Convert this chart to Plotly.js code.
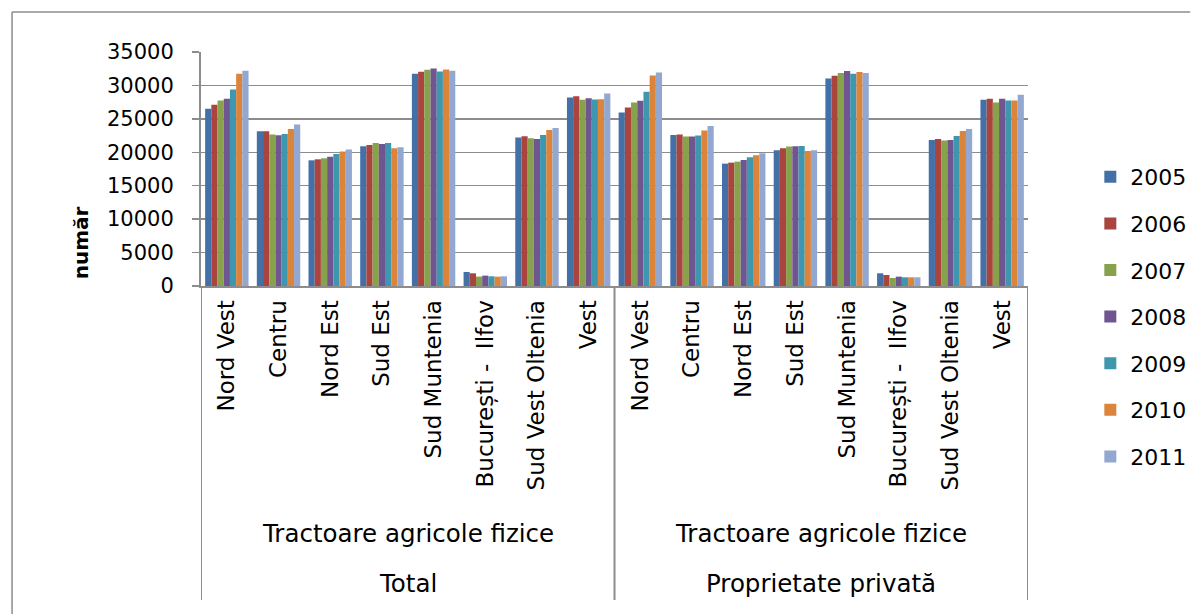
<!DOCTYPE html>
<html>
<head>
<meta charset="utf-8">
<script src="https://cdn.plot.ly/plotly-3.0.1.min.js"></script>
<style>html,body{margin:0;padding:0;background:#fff;}#chart{width:1201px;height:614px;}</style>
</head>
<body>
<div id="chart"></div>
<script>
// ---- data ----
const regions = ["Nord Vest","Centru","Nord Est","Sud Est","Sud Muntenia","București -  Ilfov","Sud Vest Oltenia","Vest"];
const ownership = ["Total","Proprietate privată"];
const indicator = "Tractoare agricole fizice";
const years = ["2005","2006","2007","2008","2009","2010","2011"];
const colors = ["#4470A8","#A9443F","#87A24B","#6F5690","#3E97AF","#DD843B","#93A8D0"];

// values: first 8 = Total, next 8 = Proprietate privată (same region order)
const v2005 = [26500,23150,18800,20900,31750,2100,22200,28200, 25950,22600,18300,20300,31050,1900,21850,27850];
const v2006 = [27100,23150,18950,21100,32050,1900,22400,28400, 26700,22650,18450,20600,31450,1650,22000,28000];
const v2007 = [27750,22650,19100,21400,32350,1400,22100,27850, 27450,22350,18600,20850,31850,1200,21750,27450];
const v2008 = [28000,22550,19350,21250,32550,1550,22000,28100, 27700,22350,18850,20900,32150,1400,21850,28000];
const v2009 = [29400,22750,19750,21400,32100,1450,22600,27900, 29050,22500,19250,20950,31750,1300,22450,27750];
const v2010 = [31750,23500,20100,20600,32400,1400,23350,27950, 31500,23250,19550,20200,32000,1300,23200,27750];
const v2011 = [32200,24150,20400,20750,32200,1450,23650,28800, 31950,23950,19850,20300,31850,1300,23500,28600];
const series = [v2005,v2006,v2007,v2008,v2009,v2010,v2011];

// ---- layout geometry (pixels) ----
const W = 1201, H = 614;
const L = 201, R = 1037, T = 52, B = 286;   // axis box
const MB = 10;                               // bottom margin (plot area extends below axis)
const GH = H - T - MB;                       // plot-area height
const px2x = p => (p - L) / (R - L);
const py2y = p => (H - MB - p) / GH;

const cats = [];
ownership.forEach(() => regions.forEach(r => cats.push(r)));
const xs = cats.map((_, i) => i);

const traces = series.map((vals, k) => ({
  type: 'bar',
  name: years[k],
  x: xs,
  y: vals,
  legendgroup: 'g' + k,
  marker: {color: colors[k], line: {width: 0}},
  hoverinfo: 'skip'
}));

const grey = '#8c8c8c';
const shapes = [];
const nGroups = ownership.length, nReg = regions.length;
for (let g = 0; g <= nGroups; g++) {
  const xb = g * nReg - 0.5;
  shapes.push({type:'line', xref:'x', yref:'paper', x0:xb, x1:xb, y0:py2y(B), y1:py2y(600), line:{color:grey, width:2}});
}
// outer frame (top + left; the rest is cropped)
shapes.push({type:'line', xref:'paper', yref:'paper', x0:px2x(10), x1:px2x(1201), y0:py2y(12), y1:py2y(12), line:{color:grey, width:1.5}});
shapes.push({type:'line', xref:'paper', yref:'paper', x0:px2x(10), x1:px2x(10), y0:py2y(12), y1:py2y(614), line:{color:grey, width:1.5}});

const annotations = [];
ownership.forEach((o, g) => {
  const cx = g * nReg + (nReg - 1) / 2;
  annotations.push({xref:'x', yref:'paper', x:cx, y:py2y(533), text:indicator, showarrow:false, xanchor:'center', yanchor:'middle', font:{family:'DejaVu Sans', size:24.5, color:'#000'}});
  annotations.push({xref:'x', yref:'paper', x:cx, y:py2y(583), text:o, showarrow:false, xanchor:'center', yanchor:'middle', font:{family:'DejaVu Sans', size:24.5, color:'#000'}});
});
annotations.push({xref:'paper', yref:'paper', x:px2x(80), y:py2y(243), text:'<b>număr</b>', textangle:-90, showarrow:false, xanchor:'center', yanchor:'middle', font:{family:'DejaVu Sans', size:20, color:'#000'}});

const layout = {
  width: W, height: H,
  margin: {l:L, r:W-R, t:T, b:MB, pad:0},
  paper_bgcolor:'#fff', plot_bgcolor:'rgba(0,0,0,0)',
  barmode:'group', bargap:0.16, bargroupgap:0,
  showlegend:true,
  legend:{x:px2x(1100), xanchor:'left', y:py2y(156), yanchor:'top', traceorder:'grouped', tracegroupgap:15,
          font:{family:'DejaVu Sans', size:22, color:'#000'}, bgcolor:'rgba(0,0,0,0)', borderwidth:0},
  xaxis:{range:[-0.5, cats.length-0.5], tickmode:'array', tickvals:xs, ticktext:cats, tickangle:-90,
         showgrid:false, zeroline:false, showline:true, linecolor:grey, linewidth:2, ticks:'',
         ticklabelstandoff:3, tickfont:{family:'DejaVu Sans', size:23, color:'#000'}, fixedrange:true},
  yaxis:{domain:[py2y(B), 1], range:[0,35000], dtick:5000, tick0:0, tickformat:'d',
         showgrid:true, gridcolor:grey, gridwidth:1.5,
         zeroline:false, showline:true, linecolor:grey, linewidth:2, ticks:'outside', ticklen:7, tickcolor:grey, tickwidth:1.5,
         ticklabelstandoff:14, tickfont:{family:'DejaVu Sans', size:21, color:'#000'}, fixedrange:true},
  shapes: shapes,
  annotations: annotations
};

Plotly.newPlot('chart', traces, layout, {staticPlot:true, displayModeBar:false});
</script>
</body>
</html>
